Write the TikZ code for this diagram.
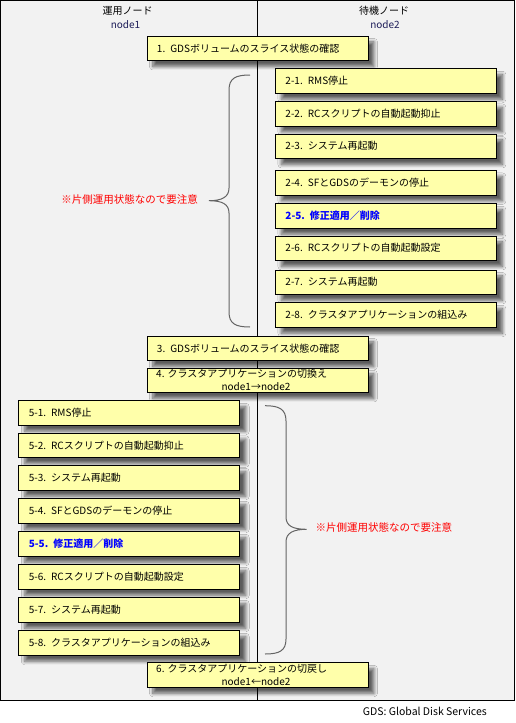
\documentclass[tikz,border=0pt]{standalone}
\usepackage{fontspec}
\setmainfont{Noto Sans CJK JP}
\usetikzlibrary{shadows.blur}
\definecolor{bgray}{RGB}{242,242,242}
\definecolor{boxfill}{RGB}{255,255,170}
\definecolor{navy}{RGB}{30,30,90}
\definecolor{bracegray}{RGB}{100,100,100}
\begin{document}
\begin{tikzpicture}[x=1pt,y=-1pt,
  box/.style={draw=black, line width=0.9pt, fill=boxfill, minimum width=221pt, minimum height=24.5pt,
    text width=201pt, align=left, inner xsep=10pt, inner ysep=0pt, anchor=north west,
    font=\fontsize{10}{12}\selectfont,
    blur shadow={shadow xshift=6pt, shadow yshift=-6pt, shadow blur radius=3.5pt, shadow opacity=62, shadow blur steps=7}},
  hdr/.style={font=\fontsize{10}{12}\selectfont, inner sep=0pt},
  note/.style={font=\fontsize{10.5}{12}\selectfont, text=red, inner sep=0pt},
  brace/.style={draw=bracegray, line width=1pt},
  plain/.style={font=\fontsize{10}{12}\selectfont, inner sep=0pt}]
\useasboundingbox (0,0) rectangle (515,723);
\fill[white] (0,0) rectangle (515,723);
\draw[fill=bgray, line width=0.8pt] (0.5,0.5) rectangle (514,700);
\draw[line width=0.8pt] (257.5,0.5) -- (257.5,700);
% headers
\node[hdr] (h1) at (127.7,11) {運用ノード};
\node[hdr, text=navy] (n1) at (125.5,24.5) {node1};
\node[hdr] (h2) at (384,11) {待機ノード};
\node[hdr, text=navy] (n2) at (385,24.5) {node2};
% boxes
\node[box] (b1) at (146.5,35.5) {1. GDSボリュームのスライス状態の確認};
\node[box] (b21) at (275,68.3) {2-1. RMS停止};
\node[box] (b22) at (275,101) {2-2. RCスクリプトの自動起動抑止};
\node[box] (b23) at (275,133.5) {2-3. システム再起動};
\node[box] (b24) at (275,170) {2-4. SFとGDSのデーモンの停止};
\node[box, text=blue, font=\fontsize{10}{12}\selectfont\bfseries] (b25) at (275,203.3) {2-5. 修正適用／削除};
\node[box] (b26) at (275,235.5) {2-6. RCスクリプトの自動起動設定};
\node[box] (b27) at (275,269.5) {2-7. システム再起動};
\node[box] (b28) at (275,302.3) {2-8. クラスタアプリケーションの組込み};
\node[box] (b3) at (146.5,335.5) {3. GDSボリュームのスライス状態の確認};
\node[box] (b4) at (146.5,367.5) {};
\node[plain, anchor=west] (b4a) at (156,373.5) {4. クラスタアプリケーションの切換え};
\node[plain] (b4b) at (256,386.3) {node1→node2};
\node[box] (b51) at (18.3,400.3) {5-1. RMS停止};
\node[box] (b52) at (18.3,432.8) {5-2. RCスクリプトの自動起動抑止};
\node[box] (b53) at (18.3,465.3) {5-3. システム再起動};
\node[box] (b54) at (18.3,498.3) {5-4. SFとGDSのデーモンの停止};
\node[box, text=blue, font=\fontsize{10}{12}\selectfont\bfseries] (b55) at (18.3,531.3) {5-5. 修正適用／削除};
\node[box] (b56) at (18.3,564.3) {5-6. RCスクリプトの自動起動設定};
\node[box] (b57) at (18.3,597.3) {5-7. システム再起動};
\node[box] (b58) at (18.3,630.3) {5-8. クラスタアプリケーションの組込み};
\node[box] (b6) at (146.5,662.3) {};
\node[plain, anchor=west] (b6a) at (156,668.5) {6. クラスタアプリケーションの切戻し};
\node[plain] (b6b) at (256,681.3) {node1←node2};
% braces
\draw[brace] (250,75) .. controls (236,75) and (229,78) .. (229,90) -- (229,188)
  .. controls (229,197) and (222,200.7) .. (209,200.7)
  .. controls (222,200.7) and (229,204) .. (229,213) -- (229,312)
  .. controls (229,324) and (236,327) .. (250,327);
\draw[brace] (265,405.7) .. controls (279,405.7) and (286,409) .. (286,421) -- (286,517)
  .. controls (286,526) and (293,529.3) .. (306.7,529.3)
  .. controls (293,529.3) and (286,533) .. (286,542) -- (286,639)
  .. controls (286,651) and (279,654) .. (265,654);
\node[note, anchor=east] (r1) at (198,200) {※片側運用状態なので要注意};
\node[note, anchor=west] (r2) at (315.5,527.5) {※片側運用状態なので要注意};
\node[plain, anchor=east, font=\fontsize{10.5}{12}\selectfont] (ft) at (487,711) {GDS: Global Disk Services};
\end{tikzpicture}
\end{document}
